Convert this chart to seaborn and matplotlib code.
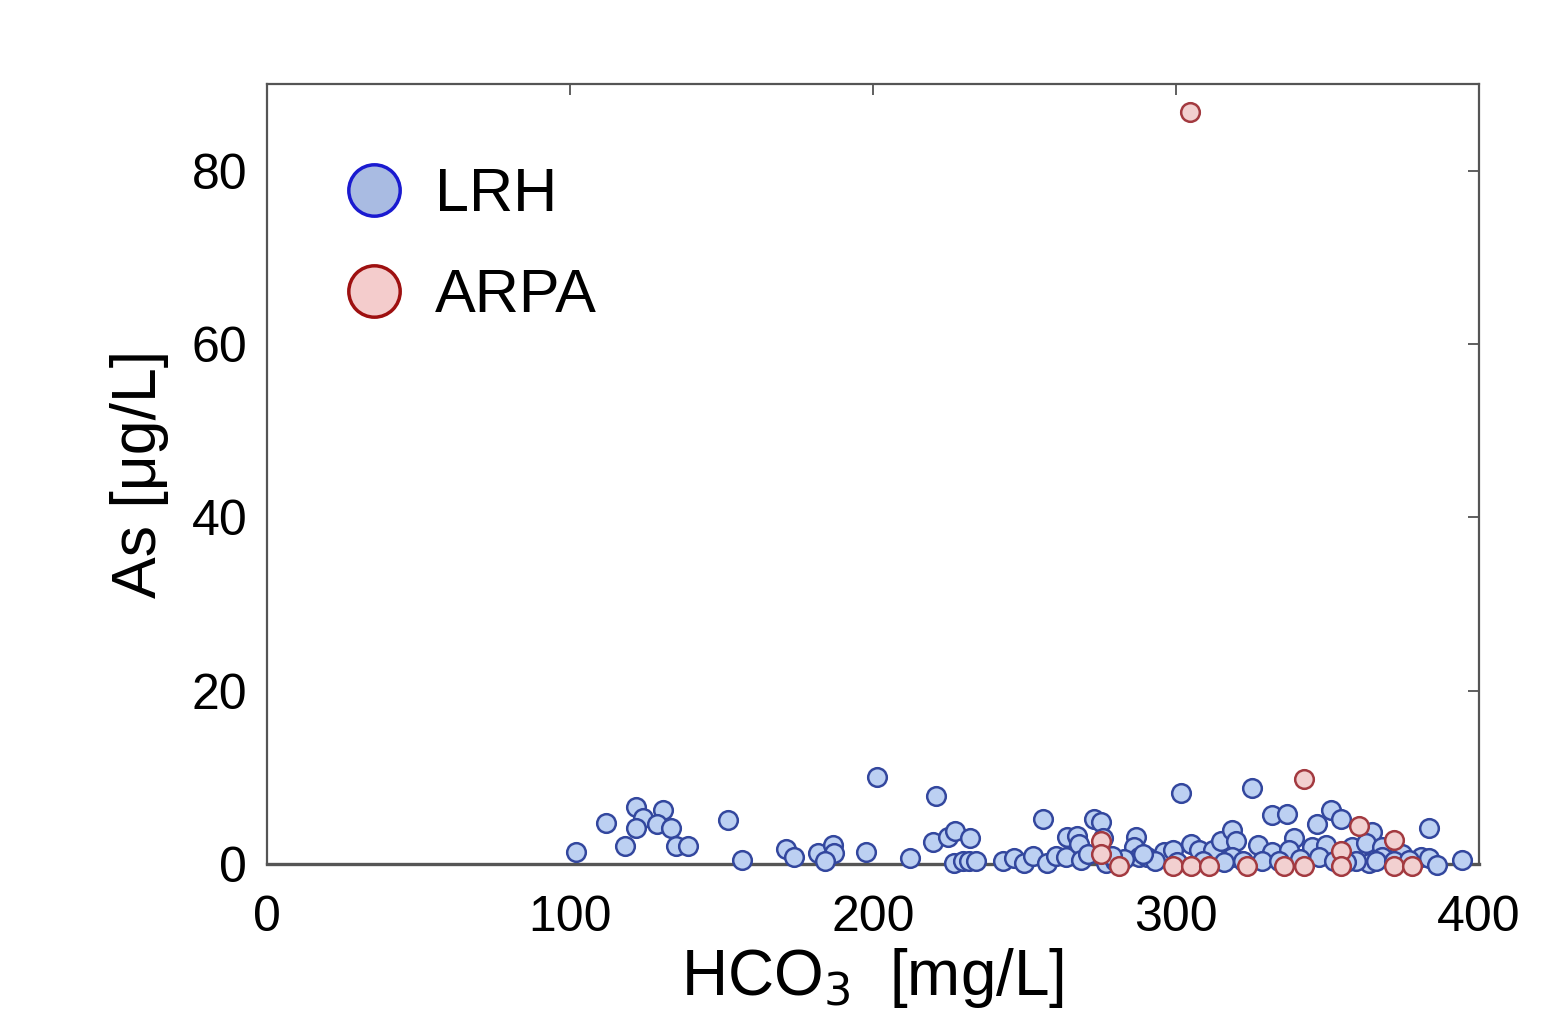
import pandas as pd
import matplotlib.pyplot as plt
import seaborn as sns
from matplotlib.lines import Line2D

# LRH samples: HCO3 [mg/L], As [ug/L]
lrh_hco3 = [102.1, 112.0, 118.1, 121.7, 124.1, 121.7, 130.9, 128.7, 133.5, 134.9,
            138.9, 152.1, 156.9, 171.4, 174.1, 181.8, 186.7, 187.0, 184.3, 201.3,
            197.8, 212.3, 220.8, 219.9, 224.7, 227.2, 232.1, 226.9, 229.6, 231.8,
            234.0, 242.8, 246.7, 250.0, 252.7, 256.2, 257.6, 260.4, 263.7, 264.2,
            267.5, 268.1, 268.7, 273.0, 275.2, 275.8, 276.9, 286.8, 286.2, 287.9,
            290.6, 296.1, 298.9, 301.6, 304.9, 307.7, 312.1, 314.8, 318.6, 319.8,
            318.6, 325.0, 331.8, 336.8, 351.1, 354.4, 346.7, 364.8, 383.5, 327.2,
            339.0, 331.8, 337.3, 345.0, 349.5, 347.2, 358.2, 362.6, 368.1, 363.7,
            368.1, 374.7, 380.8, 383.5, 386.2, 394.5, 328.5, 359.3, 280.0, 283.0,
            293.0, 300.5, 309.0, 316.0, 322.0, 334.0, 341.0, 352.0, 356.0, 366.0,
            372.0, 377.0, 271.0, 279.0, 289.0]
lrh_as = [1.4, 4.7, 2.1, 6.6, 5.3, 4.2, 6.2, 4.6, 4.2, 2.1,
          2.1, 5.1, 0.5, 1.7, 0.8, 1.3, 2.2, 1.3, 0.3, 10.0,
          1.4, 0.7, 7.9, 2.5, 3.1, 3.8, 3.0, 0.15, 0.3, 0.4,
          0.4, 0.4, 0.7, 0.15, 0.9, 5.2, 0.1, 0.9, 0.8, 3.1,
          3.2, 2.3, 0.5, 5.2, 4.8, 3.0, 0.1, 3.1, 2.0, 0.8,
          0.8, 1.4, 1.6, 8.2, 2.3, 1.6, 1.6, 2.6, 3.9, 2.6,
          0.8, 8.8, 5.6, 5.8, 6.2, 5.2, 4.6, 3.7, 4.1, 2.2,
          3.0, 1.4, 1.6, 2.0, 2.2, 0.8, 2.0, 2.4, 2.0, 0.1,
          0.8, 1.2, 0.8, 0.7, -0.1, 0.5, 0.3, 0.3, 0.3, 0.6,
          0.3, 0.2, 0.4, 0.2, 0.4, 0.3, 0.6, 0.4, 0.2, 0.4,
          0.3, 0.5, 1.1, 0.9, 1.2]

# ARPA samples
arpa_hco3 = [304.7, 275.2, 275.2, 281.3, 298.9, 304.9, 311.0, 323.6, 342.3, 360.4,
             372.0, 354.4, 335.7, 342.3, 354.4, 372.0, 377.8]
arpa_as = [86.8, 2.6, 1.2, -0.2, -0.2, -0.2, -0.2, -0.2, 9.8, 4.4,
           2.8, 1.5, -0.2, -0.2, -0.2, -0.2, -0.2]

df_lrh = pd.DataFrame({'HCO3': lrh_hco3, 'As': lrh_as})
df_arpa = pd.DataFrame({'HCO3': arpa_hco3, 'As': arpa_as})

sns.set_style("white")
plt.rcParams['font.family'] = ['Liberation Sans', 'DejaVu Sans']
plt.rcParams['text.color'] = 'black'
plt.rcParams['axes.labelcolor'] = 'black'

fig = plt.figure(figsize=(15.51, 10.34), dpi=100)
ax = fig.add_axes([0.172, 0.1644, 0.7816, 0.7544])

sns.scatterplot(data=df_lrh, x='HCO3', y='As', ax=ax, s=180, color='#bcd0f2',
                edgecolor='#33479e', linewidth=1.8, clip_on=False, zorder=3)
sns.scatterplot(data=df_arpa, x='HCO3', y='As', ax=ax, s=180, color='#f2d0d0',
                edgecolor='#a33a40', linewidth=1.8, clip_on=False, zorder=4)

ax.set_xlim(0, 400)
ax.set_ylim(0, 90)
ax.set_xticks([0, 100, 200, 300, 400])
ax.set_yticks([0, 20, 40, 60, 80])
ax.tick_params(axis='both', direction='in', length=8, width=1.2, color='#444444',
               top=True, right=True, labelsize=36, labelcolor='black', pad=14)
ax.tick_params(axis='x', pad=22)
for sp in ax.spines.values():
    sp.set_color('#555555')
    sp.set_linewidth(1.6)
ax.spines['bottom'].set_linewidth(2.4)

ax.set_xlabel(r'HCO$_3$  [mg/L]', fontsize=46, labelpad=4)
ax.set_ylabel('As [μg/L]', fontsize=45, labelpad=16)

handles = [
    Line2D([], [], marker='o', linestyle='', markersize=37, markerfacecolor='#a9bbe2',
           markeredgecolor='#1a1ad0', markeredgewidth=2.5, label='LRH'),
    Line2D([], [], marker='o', linestyle='', markersize=37, markerfacecolor='#f4cccc',
           markeredgecolor='#9e1010', markeredgewidth=2.5, label='ARPA'),
]
ax.legend(handles=handles, loc='upper left', bbox_to_anchor=(0.018, 0.925), frameon=False,
          fontsize=44, handletextpad=0.0, labelspacing=0.72, borderaxespad=0)

fig.savefig('out.png', dpi=100)
